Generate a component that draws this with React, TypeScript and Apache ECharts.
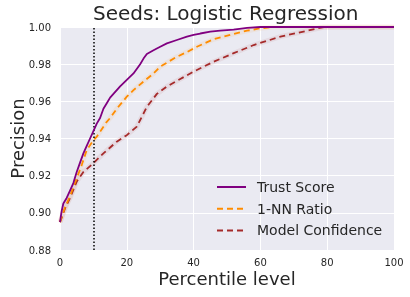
import React, { useEffect, useRef } from "react";
import * as echarts from "echarts";

const trustX = [0, 0.5, 1, 2, 3, 4, 5, 6, 7, 8, 9, 10, 11, 12, 13, 14, 15, 16, 18, 20, 22, 24, 25, 26, 28, 30, 32, 35, 38, 40, 42, 45, 48, 52, 56, 60, 100];
const trustY = [0.895, 0.901, 0.905, 0.908, 0.912, 0.916, 0.922, 0.927, 0.932, 0.936, 0.94, 0.944, 0.948, 0.951, 0.956, 0.959, 0.962, 0.964, 0.968, 0.9715, 0.975, 0.98, 0.983, 0.9855, 0.9875, 0.9894, 0.9912, 0.993, 0.9948, 0.9957, 0.9965, 0.9975, 0.998, 0.9986, 0.9995, 1.0, 1.0];

const nnX = [0, 1.5, 3, 5, 6.5, 8, 10, 11, 12, 14, 15, 17, 20, 22, 25, 28, 30, 35, 38, 41, 46, 52, 56, 60, 64, 100];
const nnY = [0.895, 0.903, 0.909, 0.9186, 0.9257, 0.9338, 0.939, 0.941, 0.9437, 0.949, 0.951, 0.956, 0.9625, 0.966, 0.9706, 0.975, 0.9787, 0.984, 0.9865, 0.9894, 0.9934, 0.9963, 0.998, 0.9993, 1.0, 1.0];

const mcX = [0, 1.5, 3, 5, 7, 10, 13, 17, 20, 23, 26, 29, 32, 36, 40, 46, 52, 58, 66, 74, 79, 100];
const mcY = [0.895, 0.9024, 0.908, 0.9168, 0.922, 0.9267, 0.932, 0.9383, 0.9418, 0.9464, 0.957, 0.964, 0.968, 0.972, 0.976, 0.9813, 0.9859, 0.9903, 0.9948, 0.998, 1.0, 1.0];

const seriesNames = ["Trust Score", "1-NN Ratio", "Model Confidence"];
const seriesColors = ["#800080", "#FF8C00", "#A52A2A"];
const cutoffPercentile = 10;

const title = "Seeds: Logistic Regression";
const xName = "Percentile level";
const yName = "Precision";

const FONT = "DejaVu Sans";
const TXT = "#262626";

function pairs(xs: number[], ys: number[]) {
  return xs.map((x, i) => [x, ys[i]]);
}

export default function App() {
  const ref = useRef<HTMLDivElement>(null);
  useEffect(() => {
    if (!ref.current) return;
    const chart = echarts.init(ref.current, undefined, { renderer: "svg" });
    const datasets = [pairs(trustX, trustY), pairs(nnX, nnY), pairs(mcX, mcY)];
    const lineTypes: any[] = ["solid", [6, 4], [6, 4]];
    const series: any[] = [];
    [1, 2].forEach((i) => {
      series.push({
        name: "band" + i,
        type: "line",
        data: datasets[i],
        symbol: "none",
        silent: true,
        lineStyle: { color: seriesColors[i], width: 5, opacity: 0.08 },
        z: 1,
      });
    });
    datasets.forEach((d, i) => {
      series.push({
        name: seriesNames[i],
        type: "line",
        data: d,
        symbol: "none",
        lineStyle: { color: seriesColors[i], width: 1.8, type: lineTypes[i] },
        itemStyle: { color: seriesColors[i] },
        z: 5 - i,
        markLine:
          i === 0
            ? {
                silent: true,
                symbol: "none",
                label: { show: false },
                lineStyle: { color: "#000", type: [1.5, 2], width: 1.5 },
                data: [{ xAxis: cutoffPercentile }],
              }
            : undefined,
      });
    });
    chart.setOption({
      animation: false,
      title: {
        text: title,
        left: 93,
        top: 3,
        padding: 0,
        textStyle: { fontFamily: FONT, fontSize: 20, fontWeight: "normal", color: TXT },
      },
      grid: {
        left: 60,
        right: 16,
        top: 27,
        bottom: 47,
        outerBoundsMode: "none",
        containLabel: false,
        show: true,
        backgroundColor: "#EAEAF2",
        borderWidth: 0,
      },
      legend: {
        data: seriesNames,
        orient: "vertical",
        left: 216,
        top: 180,
        padding: 0,
        itemWidth: 29,
        itemHeight: 14,
        itemGap: 7.7,
        itemStyle: { opacity: 0 },
        textStyle: { fontFamily: FONT, fontSize: 14, color: TXT, padding: [0, 0, 0, 6], lineHeight: 14 },
      },
      xAxis: {
        type: "value",
        min: 0,
        max: 100,
        interval: 20,
        name: xName,
        nameLocation: "middle",
        nameGap: 19,
        nameMoveOverlap: false,
        nameTextStyle: { fontFamily: FONT, fontSize: 18, color: TXT },
        axisLine: { show: false },
        axisTick: { show: false },
        axisLabel: { fontFamily: FONT, fontSize: 10, color: TXT, margin: 7 },
        splitLine: { show: true, lineStyle: { color: "#fff", width: 1 } },
      },
      yAxis: {
        type: "value",
        min: 0.88,
        max: 1.0,
        interval: 0.02,
        name: yName,
        nameLocation: "middle",
        nameGap: 34,
        nameMoveOverlap: false,
        nameTextStyle: { fontFamily: FONT, fontSize: 18, color: TXT },
        axisLine: { show: false },
        axisTick: { show: false },
        axisLabel: {
          fontFamily: FONT,
          fontSize: 10,
          color: TXT,
          margin: 9,
          formatter: (v: number) => v.toFixed(2),
        },
        splitLine: { show: true, lineStyle: { color: "#fff", width: 1 } },
      },
      series,
    });
    return () => chart.dispose();
  }, []);
  return <div ref={ref} style={{ width: 410, height: 297, position: "fixed", left: 0, top: 0 }} />;
}
